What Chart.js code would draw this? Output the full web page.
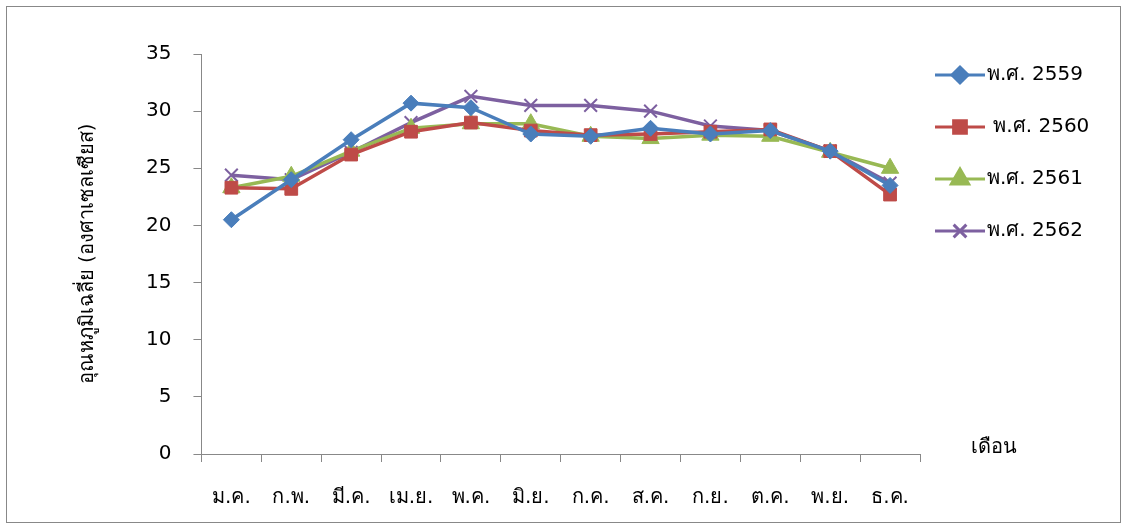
<!DOCTYPE html>
<html>
<head>
<meta charset="utf-8">
<script src="https://cdn.jsdelivr.net/npm/chart.js@4/dist/chart.umd.min.js"></script>
<style>
body { margin: 0; background: #fff; }
#wrap { position: absolute; left: 6px; top: 6px; width: 1113px; height: 515px; border: 1px solid #888; }
</style>
</head>
<body>
<div id="wrap"><canvas id="c"></canvas></div>
<script>
const months = ["ม.ค.", "ก.พ.", "มี.ค.", "เม.ย.", "พ.ค.", "มิ.ย.", "ก.ค.", "ส.ค.", "ก.ย.", "ต.ค.", "พ.ย.", "ธ.ค."];
const y2559 = [20.5, 24.0, 27.5, 30.7, 30.3, 28.0, 27.8, 28.5, 28.0, 28.3, 26.5, 23.5];
const y2560 = [23.3, 23.2, 26.2, 28.2, 29.0, 28.3, 27.9, 28.0, 28.2, 28.4, 26.5, 22.7];
const y2561 = [23.3, 24.3, 26.5, 28.5, 28.9, 28.9, 27.8, 27.6, 27.9, 27.8, 26.4, 25.0];
const y2562 = [24.4, 24.0, 26.4, 29.0, 31.3, 30.5, 30.5, 30.0, 28.7, 28.3, 26.5, 23.7];
const font = "Tahoma, 'DejaVu Sans', sans-serif";

const series = [
    { label: "พ.ศ. 2559", data: y2559, color: "#4a7ebb", style: "rectRot", r: 8 },
    { label: " พ.ศ. 2560", data: y2560, color: "#be4b48", style: "rect", r: 9 },
    { label: "พ.ศ. 2561", data: y2561, color: "#98b954", style: "triangle", r: 10 },
    { label: "พ.ศ. 2562", data: y2562, color: "#7d60a0", style: "crossRot", r: 9 },
];

// legend drawn by hand: line with marker through it
const legendPlugin = {
    id: "sideLegend",
    afterDraw(chart) {
        const ctx = chart.ctx;
        series.forEach((s, i) => {
            const y = 68 + i * 52;
            ctx.save();
            ctx.strokeStyle = s.color;
            ctx.lineWidth = 3;
            ctx.beginPath();
            ctx.moveTo(928, y);
            ctx.lineTo(978, y);
            ctx.stroke();
            Chart.helpers.drawPoint(ctx, {
                pointStyle: s.style, radius: s.r, borderWidth: s.style === "crossRot" ? 2 : 1, rotation: 0
            }, 953, y);
            ctx.fillStyle = s.color;
            ctx.fill();
            ctx.fillStyle = "#000";
            ctx.font = "20px " + font;
            ctx.textBaseline = "middle";
            ctx.fillText(s.label, 980, y);
            ctx.restore();
        });
        ctx.save();
        ctx.fillStyle = "#000";
        ctx.font = "20px " + font;
        ctx.textBaseline = "middle";
        ctx.fillText("เดือน", 964, 441);
        ctx.restore();
    }
};

new Chart(document.getElementById("c"), {
    type: "line",
    data: {
        labels: months,
        datasets: series.map(s => ({
            label: s.label,
            data: s.data,
            borderColor: s.color,
            backgroundColor: s.color,
            borderWidth: 3.5,
            pointStyle: s.style,
            pointRadius: s.r,
            pointBorderWidth: s.style === "crossRot" ? 2 : 1,
            tension: 0,
        })),
    },
    options: {
        responsive: true,
        maintainAspectRatio: false,
        animation: false,
        layout: { padding: { left: 45, right: 200, top: 47, bottom: -12 } },
        plugins: { legend: { display: false }, tooltip: { enabled: false } },
        scales: {
            x: {
                offset: true,
                grid: { display: true, drawOnChartArea: false, offset: true, color: "#888", tickLength: 8 },
                border: { color: "#888" },
                ticks: { color: "#000", font: { size: 20, family: font }, padding: 24 },
            },
            y: {
                min: 0, max: 35,
                grid: { display: true, drawOnChartArea: false, color: "#888", tickLength: 8 },
                border: { color: "#888" },
                ticks: { stepSize: 5, color: "#000", font: { size: 20, family: font }, padding: 22 },
                title: { display: true, text: "อุณหภูมิเฉลี่ย (องศาเซลเซียส)", color: "#000", font: { size: 20, family: font }, padding: 24 },
            },
        },
    },
    plugins: [legendPlugin],
});
</script>
</body>
</html>
